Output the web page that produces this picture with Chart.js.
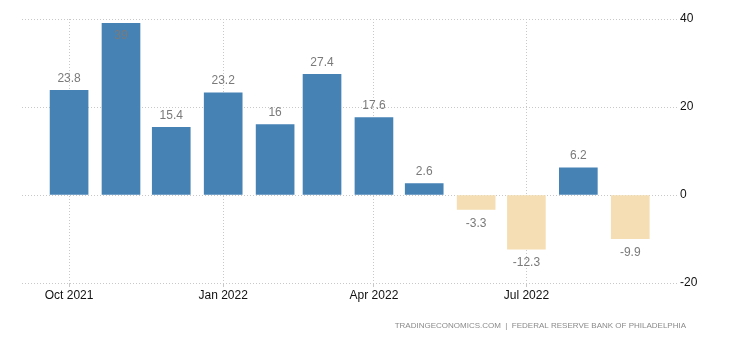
<!DOCTYPE html>
<html>
<head>
<meta charset="utf-8">
<script src="https://cdn.jsdelivr.net/npm/chart.js@4"></script>
<style>
  html, body { margin: 0; padding: 0; background: #fff; }
  #wrap { position: relative; width: 730px; height: 340px; }
</style>
</head>
<body>
<div id="wrap"><canvas id="chBars" width="730" height="340"></canvas></div>
<script>
var months = ['2021-10-01', '2021-11-01', '2021-12-01', '2022-01-01', '2022-02-01', '2022-03-01',
              '2022-04-01', '2022-05-01', '2022-06-01', '2022-07-01', '2022-08-01', '2022-09-01'];
var values = [23.8, 39, 15.4, 23.2, 16, 27.4, 17.6, 2.6, -3.3, -12.3, 6.2, -9.9];
var tickDates = ['2021-10-01', '2022-01-01', '2022-04-01', '2022-07-01'];
var tickLabels = ['Oct 2021', 'Jan 2022', 'Apr 2022', 'Jul 2022'];
var yTicks = [-20, 0, 20, 40];
var sourceText = 'TRADINGECONOMICS.COM  |  FEDERAL RESERVE BANK OF PHILADELPHIA';

var posColor = '#4682b4';
var negColor = '#f5deb3';
var gridColor = '#c8c8c8';

// x axis is days counted from the first month, so month lengths show like a time axis
var DAY = 86400000;
var start = Date.parse(months[0]);
function dayOf(d) { return Math.round((Date.parse(d) - start) / DAY); }
var tickDays = tickDates.map(dayOf);

// value labels above / below each bar
var barLabels = {
  id: 'barLabels',
  afterDatasetsDraw: function (chart) {
    var ctx = chart.ctx;
    var area = chart.chartArea;
    var meta = chart.getDatasetMeta(0);
    ctx.save();
    ctx.font = '12px "Liberation Sans", Arial, sans-serif';
    ctx.fillStyle = '#7a7a7a';
    ctx.textAlign = 'center';
    ctx.textBaseline = 'middle';
    meta.data.forEach(function (bar, i) {
      var v = values[i];
      var y;
      if (v >= 0) {
        y = bar.y - 12;
        if (y - 6 < area.top) y = bar.y + 12;   // no room above: put it inside
      } else {
        y = bar.y + 14;
      }
      ctx.fillText(String(v), bar.x, y);
    });
    ctx.restore();
  }
};

// source line bottom right
var sourceLine = {
  id: 'sourceLine',
  afterDraw: function (chart) {
    var ctx = chart.ctx;
    ctx.save();
    ctx.font = '8px "Liberation Sans", Arial, sans-serif';
    ctx.fillStyle = '#8a8a8a';
    ctx.textAlign = 'right';
    ctx.textBaseline = 'middle';
    ctx.fillText(sourceText, 686, 326);
    ctx.restore();
  }
};

new Chart(document.getElementById('chBars'), {
  type: 'bar',
  data: {
    datasets: [{
      data: values.map(function (v, i) { return { x: dayOf(months[i]), y: v }; }),
      backgroundColor: values.map(function (v) { return v >= 0 ? posColor : negColor; }),
      borderWidth: 0,
      barThickness: 38
    }]
  },
  options: {
    responsive: false,
    animation: false,
    layout: { padding: { left: 22, top: 19, right: 0, bottom: 0 } },
    plugins: {
      legend: { display: false },
      tooltip: { enabled: false }
    },
    scales: {
      x: {
        type: 'linear',
        min: -28.1,
        max: 362.9,
        offset: false,
        afterBuildTicks: function (s) {
          s.ticks = tickDays.map(function (d) { return { value: d }; });
        },
        afterFit: function (s) { s.height = 57; },
        border: { display: false, dash: [1, 2] },
        grid: {
          offset: false,
          color: gridColor,
          lineWidth: 1,
          tickLength: 4,
          tickColor: gridColor
        },
        ticks: {
          padding: 1,
          maxRotation: 0,
          color: '#111',
          font: { family: '"Liberation Sans", Arial, sans-serif', size: 12 },
          callback: function (v) { return tickLabels[tickDays.indexOf(v)]; }
        }
      },
      y: {
        position: 'right',
        min: -20,
        max: 40,
        afterBuildTicks: function (s) {
          s.ticks = yTicks.map(function (t) { return { value: t }; });
        },
        afterFit: function (s) { s.width = 53; },
        border: { display: false, dash: [1, 2] },
        grid: { color: gridColor, lineWidth: 1, drawTicks: false },
        ticks: {
          padding: 3,
          color: '#111',
          font: { family: '"Liberation Sans", Arial, sans-serif', size: 12 }
        }
      }
    }
  },
  plugins: [barLabels, sourceLine]
});
</script>
</body>
</html>
